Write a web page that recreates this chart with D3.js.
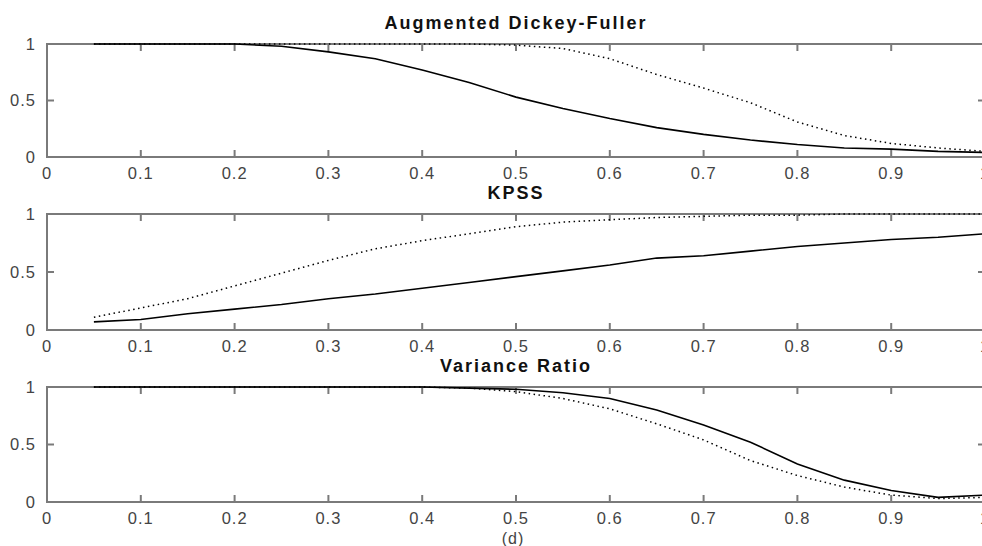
<!DOCTYPE html>
<html>
<head>
<meta charset="utf-8">
<script src="https://cdn.jsdelivr.net/npm/d3@7"></script>
<style>
  body { margin: 0; background: #fff; }
  svg { display: block; font-family: "Liberation Sans", Arial, Helvetica, sans-serif; }
</style>
</head>
<body>
<svg id="chart" width="982" height="546"></svg>
<script>
// d values on the x axis
const dValues = [0.05, 0.10, 0.15, 0.20, 0.25, 0.30, 0.35, 0.40, 0.45, 0.50,
                 0.55, 0.60, 0.65, 0.70, 0.75, 0.80, 0.85, 0.90, 0.95, 1.00];

const titles = ["Augmented Dickey-Fuller", "KPSS", "Variance Ratio"];

// solid / dotted series per panel
const adfSolid  = [1, 1, 1, 1, 0.98, 0.93, 0.87, 0.77, 0.66, 0.53, 0.43, 0.34, 0.26, 0.20, 0.15, 0.11, 0.08, 0.07, 0.05, 0.04];
const adfDotted = [1, 1, 1, 1, 1, 1, 1, 1, 1, 0.99, 0.96, 0.87, 0.73, 0.61, 0.48, 0.31, 0.19, 0.12, 0.08, 0.05];
const kpssSolid  = [0.07, 0.09, 0.14, 0.18, 0.22, 0.27, 0.31, 0.36, 0.41, 0.46, 0.51, 0.56, 0.62, 0.64, 0.68, 0.72, 0.75, 0.78, 0.80, 0.83];
const kpssDotted = [0.11, 0.19, 0.27, 0.38, 0.49, 0.60, 0.70, 0.77, 0.83, 0.89, 0.93, 0.95, 0.97, 0.98, 0.99, 0.99, 1, 1, 1, 1];
const vrSolid  = [1, 1, 1, 1, 1, 1, 1, 1, 0.99, 0.98, 0.95, 0.90, 0.80, 0.67, 0.52, 0.33, 0.19, 0.10, 0.04, 0.06];
const vrDotted = [1, 1, 1, 1, 1, 1, 1, 1, 0.99, 0.96, 0.90, 0.81, 0.68, 0.54, 0.36, 0.23, 0.13, 0.06, 0.03, 0.04];

const xTicks = [0, 0.1, 0.2, 0.3, 0.4, 0.5, 0.6, 0.7, 0.8, 0.9, 1];
const yTicks = [0, 0.5, 1];
const xLabel = "(d)";

const solidSeries = [adfSolid, kpssSolid, vrSolid];
const dottedSeries = [adfDotted, kpssDotted, vrDotted];

// panel vertical extents (pixels)
const panelTops = [44, 214, 387];
const panelBottoms = [157, 330, 502];

const left = 47, right = 985;
const axisColor = "#7a7a7a";
const tickLen = 7;

const svg = d3.select("#chart");
const x = d3.scaleLinear().domain([0, 1]).range([left, right]);

const fmt = d => d === 0 ? "0" : d === 1 ? "1" : String(d);

titles.forEach((title, i) => {
  const top = panelTops[i], bottom = panelBottoms[i];
  const y = d3.scaleLinear().domain([0, 1]).range([bottom, top]);
  const g = svg.append("g");

  // box
  g.append("rect")
    .attr("x", left).attr("y", top)
    .attr("width", right - left).attr("height", bottom - top)
    .attr("fill", "none")
    .attr("stroke", axisColor)
    .attr("stroke-width", 2);

  // inward ticks on bottom and top
  g.selectAll("line.xt").data(xTicks).enter().append("line")
    .attr("x1", d => x(d)).attr("x2", d => x(d))
    .attr("y1", bottom).attr("y2", bottom - tickLen)
    .attr("stroke", axisColor).attr("stroke-width", 2);
  g.selectAll("line.xtt").data(xTicks).enter().append("line")
    .attr("x1", d => x(d)).attr("x2", d => x(d))
    .attr("y1", top).attr("y2", top + tickLen)
    .attr("stroke", axisColor).attr("stroke-width", 2);

  // y ticks left and right
  g.selectAll("line.yt").data(yTicks).enter().append("line")
    .attr("x1", left).attr("x2", left + tickLen)
    .attr("y1", d => y(d)).attr("y2", d => y(d))
    .attr("stroke", axisColor).attr("stroke-width", 2);
  g.selectAll("line.ytr").data(yTicks).enter().append("line")
    .attr("x1", right).attr("x2", right - tickLen)
    .attr("y1", d => y(d)).attr("y2", d => y(d))
    .attr("stroke", axisColor).attr("stroke-width", 2);

  // tick labels
  g.selectAll("text.xl").data(xTicks).enter().append("text")
    .attr("x", d => x(d)).attr("y", bottom + 22)
    .attr("text-anchor", "middle")
    .attr("font-size", 16.5).attr("letter-spacing", 1)
    .attr("fill", "#444")
    .text(fmt);
  g.selectAll("text.yl").data(yTicks).enter().append("text")
    .attr("x", left - 11).attr("y", d => y(d))
    .attr("dy", "0.36em")
    .attr("text-anchor", "end")
    .attr("font-size", 16.5).attr("letter-spacing", 1)
    .attr("fill", "#444")
    .text(fmt);

  // title
  g.append("text")
    .attr("x", x(0.5)).attr("y", top - 15)
    .attr("text-anchor", "middle")
    .attr("font-size", 18).attr("font-weight", "bold")
    .attr("letter-spacing", 2)
    .attr("fill", "#111")
    .text(title);

  const line = d3.line()
    .x((d, j) => x(dValues[j]))
    .y(d => y(d));

  g.append("path")
    .datum(dottedSeries[i])
    .attr("d", line)
    .attr("fill", "none")
    .attr("stroke", "#000")
    .attr("stroke-width", 1.5)
    .attr("stroke-dasharray", "1.5,3.5");

  g.append("path")
    .datum(solidSeries[i])
    .attr("d", line)
    .attr("fill", "none")
    .attr("stroke", "#000")
    .attr("stroke-width", 1.6);
});

svg.append("text")
  .attr("x", x(0.5) - 3).attr("y", 544)
  .attr("text-anchor", "middle")
  .attr("font-size", 16).attr("letter-spacing", 1)
  .attr("fill", "#444")
  .text(xLabel);
</script>
</body>
</html>
